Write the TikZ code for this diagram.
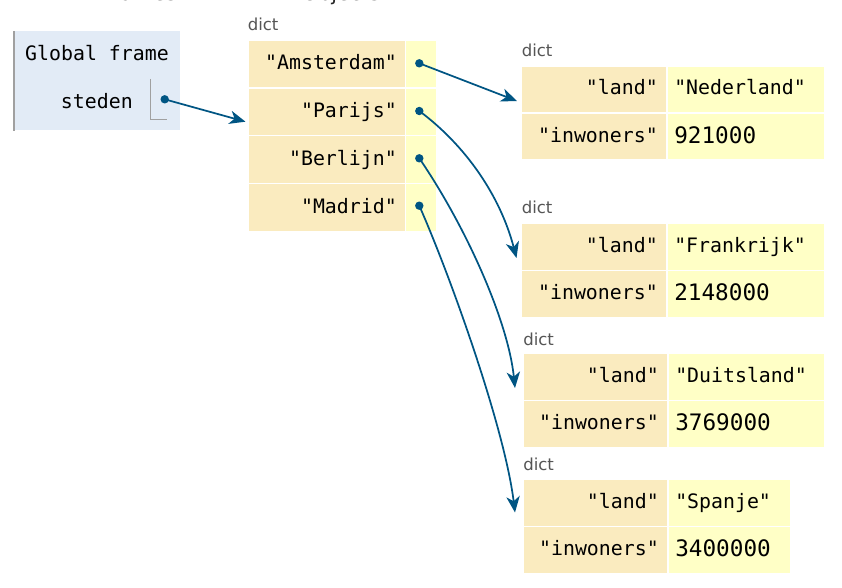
\documentclass[tikz,border=0pt]{standalone}
\usepackage{fontspec}
\setmainfont{DejaVu Sans}
\setsansfont{DejaVu Sans}
\setmonofont{DejaVu Sans Mono}
\usetikzlibrary{arrows.meta,calc}
\definecolor{framebg}{HTML}{E2EBF6}
\definecolor{keybg}{HTML}{FAEBBF}
\definecolor{valbg}{HTML}{FFFFC6}
\definecolor{ptrcol}{HTML}{005583}
\definecolor{dictgray}{HTML}{555555}
\definecolor{linegray}{HTML}{A0A0A0}
\begin{document}
\begin{tikzpicture}[x=0.75pt,y=-0.75pt,
  keycell/.style={fill=keybg, draw=white, line width=1.125pt, inner sep=0, anchor=north west},
  valcell/.style={fill=valbg, draw=white, line width=1.125pt, inner sep=0, anchor=north west},
  monotxt/.style={font=\fontsize{14.9}{16}\selectfont\ttfamily, inner sep=0},
  numtxt/.style={font=\fontsize{17}{18}\selectfont\ttfamily, inner sep=0, anchor=base west},
  keytxt/.style={monotxt, anchor=base east},
  valtxt/.style={monotxt, anchor=base west},
  dictlbl/.style={font=\fontsize{12.4}{14}\selectfont\sffamily, text=dictgray, inner sep=0, anchor=base west},
  headtxt/.style={font=\fontsize{15.5}{17}\selectfont\sffamily, text=black!85, inner sep=0, anchor=base},
  ptrdot/.style={circle, fill=ptrcol, inner sep=0, minimum size=6.3pt},
  ptr/.style={draw=ptrcol, line width=1.3pt, -{Stealth[length=12pt,width=10pt,inset=3.5pt]}},
]
\useasboundingbox (0,0) rectangle (842,588);

% headings (cut off at top)
\node[headtxt] (hframes) at (139,0.2) {Frames};
\node[headtxt] (hobjects) at (341,0.2) {Objects};

% global frame
\node[fill=framebg, inner sep=0, minimum width=124.5pt, minimum height=74.25pt, anchor=north west] (gf) at (14,31) {};
\draw[linegray, line width=1pt] (gf.north west) -- (gf.south west);
\node[monotxt, anchor=base] (gftitle) at (97,61) {Global frame};
\node[keytxt] (vsteden) at (133,109) {steden};
\coordinate (pcTop) at (150.7,79);
\coordinate (pcCorner) at (150.7,120);
\coordinate (pcEnd) at (166.7,120);
\draw[linegray, line width=0.75pt] (pcTop) -- (pcCorner) -- (pcEnd);
\node[ptrdot] (dsteden) at (164.7,99.3) {};

% main dict
\node[dictlbl] (lbl0) at (247.5,30.7) {dict};
\foreach \i/\y in {1/39.5,2/87.25,3/135,4/182.75}{
  \node[keycell, minimum width=118.125pt, minimum height=35.8125pt] (mk\i) at (247,\y) {};
  \node[valcell, minimum width=23.625pt, minimum height=35.8125pt] (mv\i) at (404.5,\y) {};
}
\node[keytxt] (tk1) at (397,70) {"Amsterdam"};
\node[keytxt] (tk2) at (397,118) {"Parijs"};
\node[keytxt] (tk3) at (397,165.5) {"Berlijn"};
\node[keytxt] (tk4) at (397,213.3) {"Madrid"};
\node[ptrdot] (dA) at (419.3,63.3) {};
\node[ptrdot] (dP) at (419.3,111) {};
\node[ptrdot] (dB) at (419.3,158.3) {};
\node[ptrdot] (dM) at (419.3,205.7) {};

% dict 1 (Nederland)
\node[dictlbl] (lbl1) at (521.5,56.7) {dict};
\node[keycell, minimum width=109.5pt, minimum height=35.25pt] (ak1) at (520,65.5) {};
\node[valcell, minimum width=118.125pt, minimum height=35.25pt] (av1) at (666,65.5) {};
\node[keycell, minimum width=109.5pt, minimum height=35.25pt] (ak2) at (520,112.5) {};
\node[valcell, minimum width=118.125pt, minimum height=35.25pt] (av2) at (666,112.5) {};
\node[keytxt] (atk1) at (658,95) {"land"};
\node[valtxt] (atv1) at (674,95) {"Nederland"};
\node[keytxt] (atk2) at (658,142.5) {"inwoners"};
\node[numtxt] (atv2) at (674,143.5) {921000};

% dict 2 (Frankrijk)
\node[dictlbl] (lbl2) at (521.5,214) {dict};
\node[keycell, minimum width=109.5pt, minimum height=35.25pt] (bk1) at (520,222.5) {};
\node[valcell, minimum width=118.125pt, minimum height=35.25pt] (bv1) at (666,222.5) {};
\node[keycell, minimum width=109.5pt, minimum height=35.25pt] (bk2) at (520,269.5) {};
\node[valcell, minimum width=118.125pt, minimum height=35.25pt] (bv2) at (666,269.5) {};
\node[keytxt] (btk1) at (658,252) {"land"};
\node[valtxt] (btv1) at (674,252) {"Frankrijk"};
\node[keytxt] (btk2) at (658,299.5) {"inwoners"};
\node[numtxt] (btv2) at (674,300.5) {2148000};

% dict 3 (Duitsland)
\node[dictlbl] (lbl3) at (523,345) {dict};
\node[keycell, minimum width=108.75pt, minimum height=35.25pt] (ck1) at (522,352.5) {};
\node[valcell, minimum width=117.75pt, minimum height=35.25pt] (cv1) at (667,352.5) {};
\node[keycell, minimum width=108.75pt, minimum height=35.25pt] (ck2) at (522,399.5) {};
\node[valcell, minimum width=117.75pt, minimum height=35.25pt] (cv2) at (667,399.5) {};
\node[keytxt] (ctk1) at (659,382) {"land"};
\node[valtxt] (ctv1) at (675,382) {"Duitsland"};
\node[keytxt] (ctk2) at (659,429.5) {"inwoners"};
\node[numtxt] (ctv2) at (675,430.5) {3769000};

% dict 4 (Spanje)
\node[dictlbl] (lbl4) at (523,470.7) {dict};
\node[keycell, minimum width=108.75pt, minimum height=35.25pt] (ek1) at (522,478.5) {};
\node[valcell, minimum width=91.875pt, minimum height=35.25pt] (ev1) at (667,478.5) {};
\node[keycell, minimum width=108.75pt, minimum height=35.25pt] (ek2) at (522,525.5) {};
\node[valcell, minimum width=91.875pt, minimum height=35.25pt] (ev2) at (667,525.5) {};
\node[keytxt] (etk1) at (659,508) {"land"};
\node[valtxt] (etv1) at (675,508) {"Spanje"};
\node[keytxt] (etk2) at (659,555.5) {"inwoners"};
\node[numtxt] (etv2) at (675,556.5) {3400000};

% arrow targets
\coordinate (tMain) at (245.5,121.7);
\coordinate (tA) at (517,101);
\coordinate (tP) at (516.5,258);
\coordinate (tB) at (515,388);
\coordinate (tM) at (515,512.5);

% pointers
\draw[ptr] (dsteden.center) -- (tMain);
\draw[ptr] (dA.center) -- (tA);
\draw[ptr] (dP.center) .. controls (465,145) and (500,195) .. (tP);
\draw[ptr] (dB.center) .. controls (465,225) and (508,320) .. (tB);
\draw[ptr] (dM.center) .. controls (452,280) and (505,430) .. (tM);
\end{tikzpicture}
\end{document}
